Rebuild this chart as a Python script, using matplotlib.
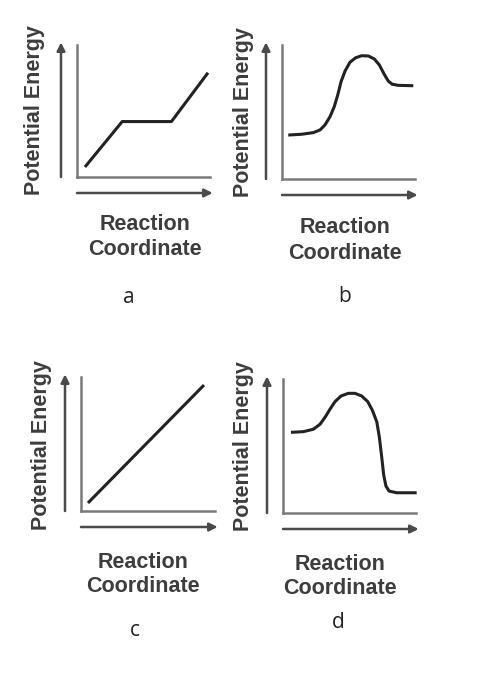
import matplotlib
matplotlib.use("Agg")
import matplotlib.pyplot as plt

W, H = 503, 684

# ---- data (fractions of each panel's axis range) ----
a_x = [0.06, 0.34, 0.71, 0.985]
a_y = [0.076, 0.42, 0.42, 0.79]

b_x = [0.047, 0.148, 0.235, 0.286, 0.323, 0.361, 0.393, 0.419, 0.444, 0.474, 0.511,
       0.554, 0.599, 0.649, 0.694, 0.732, 0.769, 0.799, 0.829, 0.874, 0.987]
b_y = [0.328, 0.334, 0.346, 0.366, 0.403, 0.465, 0.540, 0.627, 0.726, 0.806, 0.871,
       0.905, 0.920, 0.918, 0.896, 0.851, 0.781, 0.731, 0.707, 0.699, 0.696]

c_x = [0.052, 0.918]
c_y = [0.060, 0.940]

d_x = [0.060, 0.153, 0.228, 0.278, 0.316, 0.353, 0.391, 0.436, 0.491, 0.541, 0.592,
       0.637, 0.671, 0.705, 0.724, 0.742, 0.757, 0.774, 0.797, 0.855, 1.005]
d_y = [0.602, 0.607, 0.625, 0.662, 0.714, 0.774, 0.831, 0.873, 0.893, 0.893, 0.873,
       0.831, 0.769, 0.681, 0.569, 0.420, 0.284, 0.201, 0.164, 0.151, 0.151]

panel_letters = ["a", "b", "c", "d"]
xlabel_lines = ["Reaction", "Coordinate"]
ylabel_text = "Potential Energy"

# ---- layout (pixels) ----
panels = [
    dict(box=(77, 45, 210, 177), x=a_x, y=a_y, ylab=(35, 110), xl=(145, 225, 250), let=(129, 298)),
    dict(box=(282, 45, 415, 179), x=b_x, y=b_y, ylab=(243, 112), xl=(345, 228, 253), let=(345, 296)),
    dict(box=(81, 377, 215, 511), x=c_x, y=c_y, ylab=(42, 445), xl=(143, 562, 587), let=(135, 630)),
    dict(box=(283, 379, 416, 513), x=d_x, y=d_y, ylab=(243, 446), xl=(340, 564, 588), let=(338, 623)),
]

fig = plt.figure(figsize=(W / 100, H / 100), dpi=100)
fig.patch.set_facecolor("white")

txt_color = "#3d3d3d"
spine_color = "#7a7a7a"
arrow_color = "#4a4a4a"
curve_color = "#222222"

for p, letter in zip(panels, panel_letters):
    l, t, r, b = p["box"]
    ax = fig.add_axes([l / W, 1 - b / H, (r - l) / W, (b - t) / H])
    ax.set_xlim(0, 1)
    ax.set_ylim(0, 1)
    ax.plot(p["x"], p["y"], color=curve_color, lw=2.2, solid_capstyle="butt",
            solid_joinstyle="round", clip_on=False)
    for s in ["top", "right"]:
        ax.spines[s].set_visible(False)
    for s in ["left", "bottom"]:
        ax.spines[s].set_color(spine_color)
        ax.spines[s].set_linewidth(1.8)
    ax.set_xticks([])
    ax.set_yticks([])
    ax.set_facecolor("none")
    wpx, hpx = r - l, b - t
    ox = -16 / wpx
    oy = -16 / hpx
    ax.annotate("", xy=(ox, 1.02), xytext=(ox, 0.0), xycoords="axes fraction",
                arrowprops=dict(arrowstyle="-|>", color=arrow_color, lw=1.8,
                                mutation_scale=12, shrinkA=0, shrinkB=0),
                annotation_clip=False)
    ax.annotate("", xy=(1.02, oy), xytext=(0.0, oy), xycoords="axes fraction",
                arrowprops=dict(arrowstyle="-|>", color=arrow_color, lw=1.8,
                                mutation_scale=12, shrinkA=0, shrinkB=0),
                annotation_clip=False)
    # labels
    yx, yy = p["ylab"]
    fig.text(yx / W, 1 - yy / H, ylabel_text, rotation=90, ha="center", va="center",
             fontsize=15.5, fontweight="bold", family="Liberation Sans", color=txt_color)
    cx, y1, y2 = p["xl"]
    fig.text(cx / W, 1 - y1 / H, xlabel_lines[0], ha="center", va="center",
             fontsize=15.5, fontweight="bold", family="Liberation Sans", color=txt_color)
    fig.text(cx / W, 1 - y2 / H, xlabel_lines[1], ha="center", va="center",
             fontsize=15.5, fontweight="bold", family="Liberation Sans", color=txt_color)
    lx, ly = p["let"]
    fig.text(lx / W, 1 - ly / H, letter, ha="center", va="center",
             fontsize=15, family="Open Sans", color="#222222")

fig.savefig("out.png", dpi=100, facecolor="white")
